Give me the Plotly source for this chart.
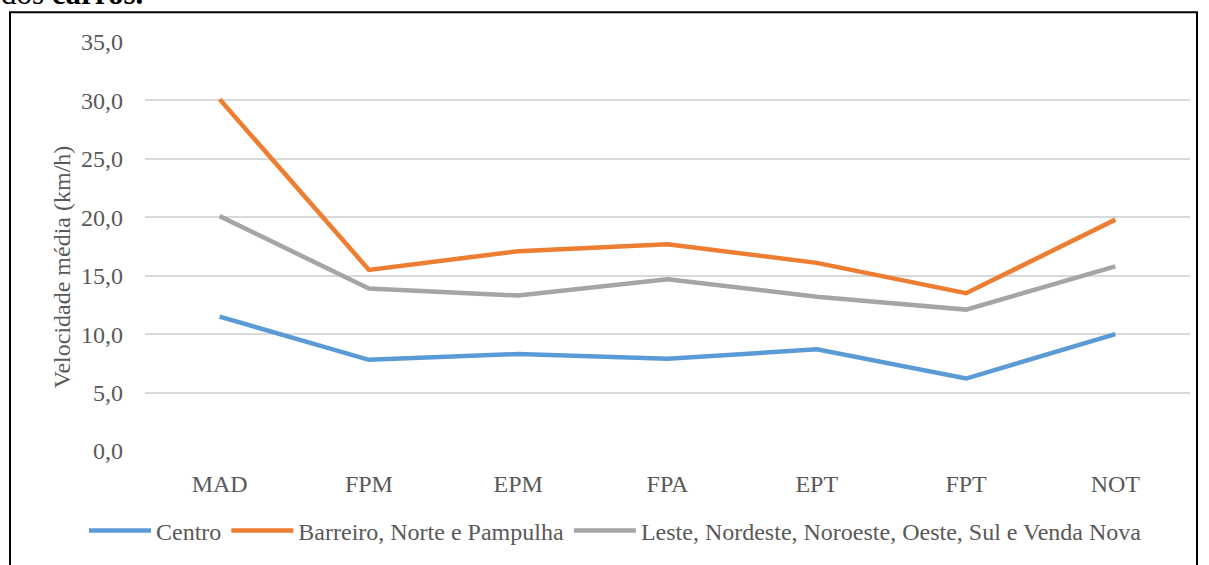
import plotly.graph_objects as go

periodos = ["MAD", "FPM", "EPM", "FPA", "EPT", "FPT", "NOT"]
centro = [11.5, 7.8, 8.3, 7.9, 8.7, 6.2, 10.0]
barreiro_norte_pampulha = [30.1, 15.5, 17.1, 17.7, 16.1, 13.5, 19.8]
leste_etc = [20.1, 13.9, 13.3, 14.7, 13.2, 12.1, 15.8]

nomes = ["Centro", "Barreiro, Norte e Pampulha",
         "Leste, Nordeste, Noroeste, Oeste, Sul e Venda Nova"]
cores = ["#5b9bd5", "#ed7d31", "#a5a5a5"]

FONTE = "Liberation Serif"
CINZA = "#595959"
TAM = 24

fig = go.Figure()
for nome, vals, cor in zip(nomes, [centro, barreiro_norte_pampulha, leste_etc], cores):
    fig.add_trace(go.Scatter(x=periodos, y=vals, mode="lines", name=nome,
                             line=dict(color=cor, width=4.5)))

# plot area: x 145..1190, y 42..456 (px)
L, R, T, B = 145, 1190, 42, 456
W, H = R - L, B - T

def px_x(p):
    return (p - L) / W

def px_y(p):
    return (B - p) / H

fig.add_shape(type="rect", xref="paper", yref="paper",
              x0=px_x(10), x1=px_x(1197), y0=px_y(620), y1=px_y(12),
              line=dict(color="black", width=2), layer="below")

fig.add_annotation(xref="paper", yref="paper", x=px_x(-1), y=px_y(13),
                   xanchor="left", yanchor="bottom", showarrow=False,
                   text="dos <b>carros.</b>",
                   font=dict(family=FONTE, size=31, color="black"))

# y-axis title placed like the original (a bit below the axis centre)
fig.add_annotation(xref="paper", yref="paper", x=px_x(62), y=px_y(270),
                   xanchor="center", yanchor="middle", showarrow=False,
                   textangle=-90, text="Velocidade média (km/h)",
                   font=dict(family=FONTE, size=TAM, color=CINZA))

fig.update_layout(
    width=1209, height=565,
    margin=dict(l=L, r=1209 - R, t=T, b=565 - B),
    paper_bgcolor="white", plot_bgcolor="white",
    separators=", ",
    font=dict(family=FONTE, size=TAM, color=CINZA),
    showlegend=True,
    legend=dict(orientation="h", x=px_x(84), xanchor="left",
                y=px_y(537), yanchor="middle",
                font=dict(family=FONTE, size=TAM, color=CINZA),
                itemwidth=62, tracegroupgap=0),
    xaxis=dict(type="category", range=[-0.5, 6.5], automargin=False,
               showgrid=False, showline=False, zeroline=False,
               ticks="", ticklabelstandoff=16,
               tickfont=dict(family=FONTE, size=TAM, color=CINZA)),
    yaxis=dict(range=[0, 35], dtick=5, tickformat=".1f", automargin=False,
               showgrid=True, gridcolor="#d9d9d9", gridwidth=1.5,
               zeroline=False, showline=False, ticks="",
               ticklabelstandoff=21,
               tickfont=dict(family=FONTE, size=TAM, color=CINZA)),
)

fig.write_html("out.html", config={"displayModeBar": False},
               post_script="document.body.style.margin='0';")
